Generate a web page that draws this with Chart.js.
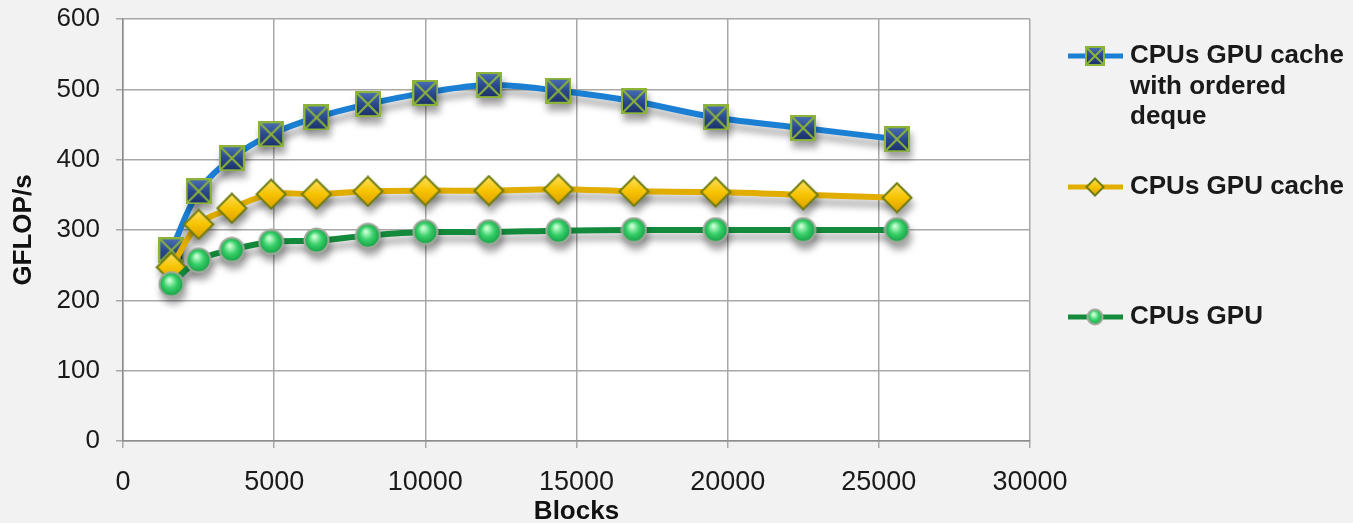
<!DOCTYPE html>
<html>
<head>
<meta charset="utf-8">
<script src="https://cdn.jsdelivr.net/npm/chart.js@4.4.1/dist/chart.umd.min.js"></script>
<style>
  html, body { margin: 0; padding: 0; background: #f2f2f2; }
  #wrap { position: relative; width: 1353px; height: 523px; }
</style>
</head>
<body>
<div id="wrap"><canvas id="perfChart"></canvas></div>
<script>
// data
const blocks = [1600, 2500, 3600, 4900, 6400, 8100, 10000, 12100, 14400, 16900, 19600, 22500, 25600]
const orderedDeque = [271, 355, 402, 436, 460, 479, 495, 506, 498, 483, 460, 445, 429]
const gpuCache = [247, 308, 331, 351, 351, 355, 356, 356, 358, 355, 354, 350, 346]
const gpuOnly = [223, 257, 272, 283, 285, 292, 297, 297, 299, 300, 300, 300, 300]
const seriesNames = ['CPUs GPU cache with ordered deque', 'CPUs GPU cache', 'CPUs GPU']
const xRange = [0, 30000, 5000]
const yRange = [0, 600, 100]

const FONT = "'Liberation Sans', Arial, sans-serif"

function squareMarker(size) {
  const c = document.createElement('canvas')
  c.width = c.height = size
  const g = c.getContext('2d')
  const grad = g.createLinearGradient(0, 0, 0, size)
  grad.addColorStop(0, '#4d72b8')
  grad.addColorStop(0.5, '#2b4a8e')
  grad.addColorStop(1, '#1a2f66')
  g.fillStyle = grad
  g.fillRect(1, 1, size - 2, size - 2)
  g.strokeStyle = '#8db33a'
  g.lineWidth = 2
  g.strokeRect(1, 1, size - 2, size - 2)
  g.beginPath()
  g.moveTo(2, 2); g.lineTo(size - 2, size - 2)
  g.moveTo(size - 2, 2); g.lineTo(2, size - 2)
  g.stroke()
  return c
}

function diamondMarker(size) {
  const c = document.createElement('canvas')
  c.width = c.height = size
  const g = c.getContext('2d')
  const h = size / 2
  const grad = g.createLinearGradient(0, 0, 0, size)
  grad.addColorStop(0, '#ffe36b')
  grad.addColorStop(0.5, '#f7c400')
  grad.addColorStop(1, '#dc9c00')
  g.beginPath()
  g.moveTo(h, 1.5); g.lineTo(size - 1.5, h); g.lineTo(h, size - 1.5); g.lineTo(1.5, h)
  g.closePath()
  g.fillStyle = grad
  g.fill()
  g.strokeStyle = '#6f7d12'
  g.lineWidth = 2
  g.stroke()
  return c
}

function ballMarker(size) {
  const c = document.createElement('canvas')
  c.width = c.height = size
  const g = c.getContext('2d')
  const r = size / 2
  const grad = g.createRadialGradient(size * 0.42, size * 0.35, 1, r, r, r)
  grad.addColorStop(0, '#c8ffd2')
  grad.addColorStop(0.45, '#38d06a')
  grad.addColorStop(1, '#0e963c')
  g.beginPath()
  g.arc(r, r, r - 1.5, 0, Math.PI * 2)
  g.fillStyle = grad
  g.fill()
  g.strokeStyle = '#a3aa9f'
  g.lineWidth = 2
  g.stroke()
  return c
}

const markers = [squareMarker(26), diamondMarker(32), ballMarker(27)]
const legendMarkers = [squareMarker(20), diamondMarker(20), ballMarker(18)]
const lineColors = ['#1b7fd3', '#e0ad00', '#148a3c']

const plotBackground = {
  id: 'plotBackground',
  beforeDraw(chart) {
    const {ctx, chartArea: a} = chart
    ctx.save()
    ctx.fillStyle = '#ffffff'
    ctx.fillRect(a.left, a.top, a.right - a.left, a.bottom - a.top)
    ctx.restore()
  }
}

const dropShadow = {
  id: 'dropShadow',
  beforeDatasetDraw(chart) {
    const ctx = chart.ctx
    ctx.save()
    ctx.shadowColor = 'rgba(0,0,0,0.35)'
    ctx.shadowBlur = 7
    ctx.shadowOffsetX = 2
    ctx.shadowOffsetY = 7
  },
  afterDatasetDraw(chart) {
    chart.ctx.restore()
  }
}

// legend on the right, labels wrapped like the original
const sideLegend = {
  id: 'sideLegend',
  afterDraw(chart) {
    const ctx = chart.ctx
    const rows = [56, 187, 317]
    ctx.save()
    ctx.font = 'bold 26px ' + FONT
    ctx.textBaseline = 'middle'
    ctx.fillStyle = '#1a1a1a'
    seriesNames.forEach((name, i) => {
      const y = rows[i]
      ctx.strokeStyle = lineColors[i]
      ctx.lineWidth = 5
      ctx.beginPath()
      ctx.moveTo(1068, y)
      ctx.lineTo(1123, y)
      ctx.stroke()
      const m = legendMarkers[i]
      ctx.drawImage(m, 1095 - m.width / 2, y - m.height / 2)
      // wrap words
      const lines = []
      let cur = ''
      name.split(' ').forEach(w => {
        const test = cur ? cur + ' ' + w : w
        if (ctx.measureText(test).width > 222 && cur) { lines.push(cur); cur = w }
        else cur = test
      })
      lines.push(cur)
      lines.forEach((ln, k) => ctx.fillText(ln, 1130, y + k * 30.5))
    })
    ctx.restore()
  }
}

const ctx = document.getElementById('perfChart')

new Chart(ctx, {
  type: 'line',
  data: {
    labels: blocks,
    datasets: [
      {
        label: seriesNames[0],
        data: blocks.map((b, i) => ({x: b, y: orderedDeque[i]})),
        borderColor: lineColors[0],
        borderWidth: 6,
        pointStyle: markers[0],
        order: 2
      },
      {
        label: seriesNames[1],
        data: blocks.map((b, i) => ({x: b, y: gpuCache[i]})),
        borderColor: lineColors[1],
        borderWidth: 6,
        pointStyle: markers[1],
        order: 1
      },
      {
        label: seriesNames[2],
        data: blocks.map((b, i) => ({x: b, y: gpuOnly[i]})),
        borderColor: lineColors[2],
        borderWidth: 6,
        pointStyle: markers[2],
        order: 0
      }
    ]
  },
  options: {
    responsive: true,
    maintainAspectRatio: false,
    animation: false,
    tension: 0.35,
    layout: { padding: { top: 18, right: 323, left: 0, bottom: 0 } },
    elements: { point: { radius: 13 } },
    plugins: {
      legend: { display: false },
      tooltip: { enabled: false }
    },
    scales: {
      x: {
        type: 'linear',
        min: xRange[0],
        max: xRange[1],
        afterFit: (s) => { s.height = 82 },
        ticks: {
          stepSize: xRange[2],
          padding: 18,
          color: '#1a1a1a',
          font: { family: FONT, size: 27 },
          callback: (v) => String(v)
        },
        grid: { color: '#a8a8a8', lineWidth: 1.5, tickLength: 7 },
        border: { color: '#8c8c8c', width: 1.5 },
        title: {
          display: true,
          text: 'Blocks',
          color: '#111',
          padding: { top: 0, bottom: -4 },
          font: { family: FONT, size: 26, weight: 'bold' }
        }
      },
      y: {
        min: yRange[0],
        max: yRange[1],
        afterFit: (s) => {
          s.width = 123
          // keep the tick padding from pushing the plot down
          s.paddingTop = 0
          s.paddingBottom = 0
        },
        ticks: { stepSize: yRange[2], padding: 16, color: '#1a1a1a', font: { family: FONT, size: 26 } },
        grid: { color: '#a8a8a8', lineWidth: 1.5, tickLength: 7 },
        border: { color: '#8c8c8c', width: 1.5 },
        title: {
          display: true,
          text: 'GFLOP/s',
          color: '#111',
          padding: { top: 8, bottom: 0 },
          font: { family: FONT, size: 26, weight: 'bold' }
        }
      }
    }
  },
  plugins: [plotBackground, dropShadow, sideLegend]
})
</script>
</body>
</html>
